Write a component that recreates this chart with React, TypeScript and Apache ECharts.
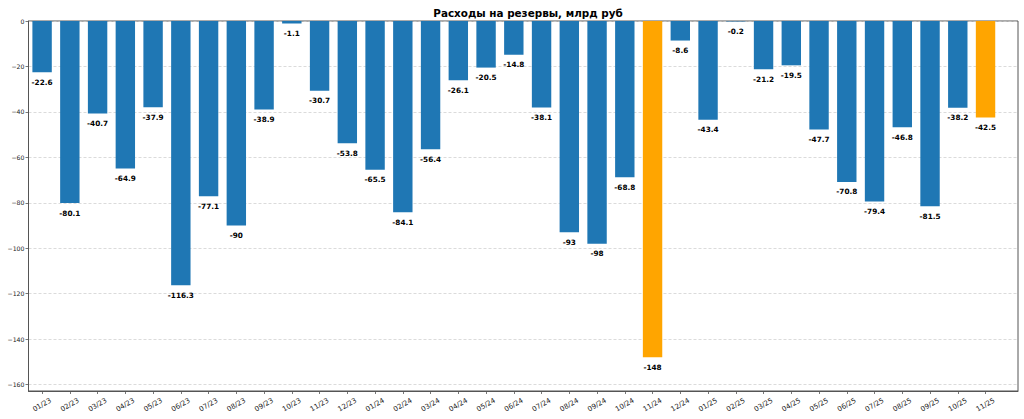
import React, { useEffect, useRef } from "react";
import * as echarts from "echarts";

const categories: string[] = [
  "01/23", "02/23", "03/23", "04/23", "05/23", "06/23", "07/23", "08/23", "09/23", "10/23", "11/23", "12/23",
  "01/24", "02/24", "03/24", "04/24", "05/24", "06/24", "07/24", "08/24", "09/24", "10/24", "11/24", "12/24",
  "01/25", "02/25", "03/25", "04/25", "05/25", "06/25", "07/25", "08/25", "09/25", "10/25", "11/25",
];

const values: number[] = [
  -22.6, -80.1, -40.7, -64.9, -37.9, -116.3, -77.1, -90, -38.9, -1.1, -30.7, -53.8,
  -65.5, -84.1, -56.4, -26.1, -20.5, -14.8, -38.1, -93, -98, -68.8, -148, -8.6,
  -43.4, -0.2, -21.2, -19.5, -47.7, -70.8, -79.4, -46.8, -81.5, -38.2, -42.5,
];

const highlighted: string[] = ["11/24", "11/25"];

const yTicks: number[] = [0, -20, -40, -60, -80, -100, -120, -140, -160];

const TITLE = "Расходы на резервы, млрд руб";

const BLUE = "#1f77b4";
const ORANGE = "#ffa500";
const FONT = "DejaVu Sans";

export default function App() {
  const ref = useRef<HTMLDivElement>(null);

  useEffect(() => {
    if (!ref.current) return;
    const chart = echarts.init(ref.current, undefined, { renderer: "svg" });
    const idx = categories.map((_, i) => i);
    const minVal = Math.min(...values) * 1.1;

    chart.setOption({
      animation: false,
      backgroundColor: "#ffffff",
      title: {
        text: TITLE,
        left: 523,
        top: 3,
        textAlign: "center",
        textStyle: { fontFamily: FONT, fontSize: 10.4, fontWeight: "bold", color: "#000" },
      },
      grid: {
        left: 28.5,
        right: 6,
        top: 21,
        bottom: 28,
        show: true,
        borderColor: "#555",
        borderWidth: 1,
        backgroundColor: "transparent",
        containLabel: false,
      },
      xAxis: {
        type: "value",
        min: -0.49,
        max: 35.17,
        splitLine: { show: false },
        axisLine: { show: true, onZero: false, lineStyle: { color: "#555", width: 1 } },
        axisTick: {
          show: true,
          length: 3,
          customValues: idx,
          lineStyle: { color: "#555", width: 0.8 },
        },
        axisLabel: {
          show: true,
          customValues: idx,
          rotate: 30,
          align: "center",
          verticalAlign: "middle",
          margin: 14,
          fontFamily: FONT,
          fontSize: 7,
          color: "#222",
          formatter: (v: number) => categories[Math.round(v)] ?? "",
        },
      },
      yAxis: {
        type: "value",
        min: minVal,
        max: 0,
        axisLine: { show: true, onZero: false, lineStyle: { color: "#555", width: 1 } },
        axisTick: {
          show: true,
          length: 3,
          customValues: yTicks,
          lineStyle: { color: "#555", width: 0.8 },
        },
        axisLabel: {
          show: true,
          customValues: yTicks,
          margin: 4,
          fontFamily: FONT,
          fontSize: 6.2,
          color: "#222",
          formatter: (v: number) => (v < 0 ? "\u2212" + Math.abs(v) : String(v)),
        },
        splitNumber: 8,
        minInterval: 20,
        maxInterval: 20,
        splitLine: {
          show: true,
          lineStyle: { color: "#cccccc", width: 0.7, type: [3, 2] },
        },
      },
      series: [
        {
          type: "bar",
          barWidth: 19.4,
          data: values.map((v, i) => ({
            value: [i, v],
            itemStyle: { color: highlighted.includes(categories[i]) ? ORANGE : BLUE },
          })),
          label: {
            show: true,
            position: "bottom",
            distance: 6.5,
            fontFamily: FONT,
            fontSize: 7.3,
            fontWeight: "bold",
            color: "#000",
            formatter: (p: any) => String(p.value[1]),
          },
        },
      ],
    });

    return () => chart.dispose();
  }, []);

  return (
    <div
      ref={ref}
      style={{ position: "fixed", left: 0, top: 0, width: 1024, height: 419 }}
    />
  );
}
